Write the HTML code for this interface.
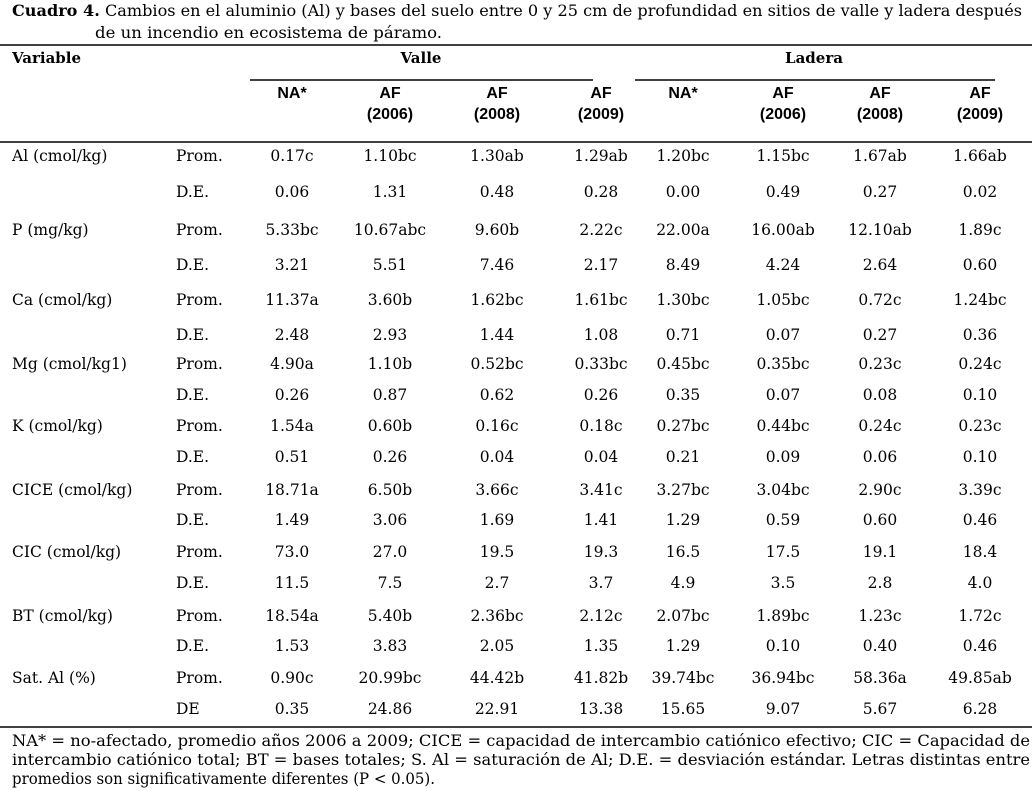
<!DOCTYPE html>
<html><head><meta charset="utf-8">
<style>
html,body{margin:0;padding:0;background:#fff;}
svg{display:block;}
.s{font-family:"DejaVu Serif","Liberation Serif",serif;font-size:15.5px;fill:#000;}
.h{font-family:"Liberation Sans",Arial,sans-serif;font-weight:bold;font-size:16px;fill:#000;}
.hs{font-family:"DejaVu Serif","Liberation Serif",serif;font-weight:bold;font-size:15px;fill:#000;}
</style></head>
<body>
<svg id="t" width="1032" height="791" viewBox="0 0 1032 791">
<text class="s" x="12" y="16" textLength="1010" lengthAdjust="spacingAndGlyphs"><tspan font-weight="bold">Cuadro 4.</tspan> Cambios en el aluminio (Al) y bases del suelo entre 0 y 25 cm de profundidad en sitios de valle y ladera después</text>
<text class="s" x="95" y="38" textLength="347" lengthAdjust="spacingAndGlyphs">de un incendio en ecosistema de páramo.</text>
<line x1="0" y1="45" x2="1032" y2="45" stroke="#000" stroke-width="1.5"/>
<text class="hs" x="12" y="63">Variable</text>
<text class="hs" x="421" y="63" text-anchor="middle">Valle</text>
<text class="hs" x="814" y="63" text-anchor="middle">Ladera</text>
<line x1="250" y1="80" x2="593" y2="80" stroke="#000" stroke-width="1.5"/>
<line x1="635" y1="80" x2="995" y2="80" stroke="#000" stroke-width="1.5"/>
<line x1="0" y1="142" x2="1032" y2="142" stroke="#000" stroke-width="1.5"/>
<line x1="0" y1="727" x2="1032" y2="727" stroke="#000" stroke-width="1.5"/>
<text class="s" x="12" y="746" textLength="1018" lengthAdjust="spacingAndGlyphs">NA* = no-afectado, promedio años 2006 a 2009; CICE = capacidad de intercambio catiónico efectivo; CIC = Capacidad de</text>
<text class="s" x="12" y="765" textLength="1018" lengthAdjust="spacingAndGlyphs">intercambio catiónico total; BT = bases totales; S. Al = saturación de Al; D.E. = desviación estándar. Letras distintas entre</text>
<text class="s" x="12" y="784" textLength="423" lengthAdjust="spacingAndGlyphs">promedios son significativamente diferentes (P &lt; 0.05).</text>
</svg>
<script>
const colTitles=["NA*","AF","AF","AF","NA*","AF","AF","AF"];
const colYears=["","(2006)","(2008)","(2009)","","(2006)","(2008)","(2009)"];
const variables=["Al (cmol/kg)","P (mg/kg)","Ca (cmol/kg)","Mg (cmol/kg1)","K (cmol/kg)","CICE (cmol/kg)","CIC (cmol/kg)","BT (cmol/kg)","Sat. Al (%)"];
const promValues=[
["0.17c","1.10bc","1.30ab","1.29ab","1.20bc","1.15bc","1.67ab","1.66ab"],
["5.33bc","10.67abc","9.60b","2.22c","22.00a","16.00ab","12.10ab","1.89c"],
["11.37a","3.60b","1.62bc","1.61bc","1.30bc","1.05bc","0.72c","1.24bc"],
["4.90a","1.10b","0.52bc","0.33bc","0.45bc","0.35bc","0.23c","0.24c"],
["1.54a","0.60b","0.16c","0.18c","0.27bc","0.44bc","0.24c","0.23c"],
["18.71a","6.50b","3.66c","3.41c","3.27bc","3.04bc","2.90c","3.39c"],
["73.0","27.0","19.5","19.3","16.5","17.5","19.1","18.4"],
["18.54a","5.40b","2.36bc","2.12c","2.07bc","1.89bc","1.23c","1.72c"],
["0.90c","20.99bc","44.42b","41.82b","39.74bc","36.94bc","58.36a","49.85ab"]];
const deValues=[
["0.06","1.31","0.48","0.28","0.00","0.49","0.27","0.02"],
["3.21","5.51","7.46","2.17","8.49","4.24","2.64","0.60"],
["2.48","2.93","1.44","1.08","0.71","0.07","0.27","0.36"],
["0.26","0.87","0.62","0.26","0.35","0.07","0.08","0.10"],
["0.51","0.26","0.04","0.04","0.21","0.09","0.06","0.10"],
["1.49","3.06","1.69","1.41","1.29","0.59","0.60","0.46"],
["11.5","7.5","2.7","3.7","4.9","3.5","2.8","4.0"],
["1.53","3.83","2.05","1.35","1.29","0.10","0.40","0.46"],
["0.35","24.86","22.91","13.38","15.65","9.07","5.67","6.28"]];
const deLabels=["D.E.","D.E.","D.E.","D.E.","D.E.","D.E.","D.E.","D.E.","DE"];

const svg=document.getElementById('t');
const NS="http://www.w3.org/2000/svg";
const colX=[292,390,497,601,683,783,880,980];
const promY=[161,235,305,369,431,495,557,621,683];
const deY=[197,270,340,400,462,525,588,651,714];
function txt(cls,x,y,s,anchor){const e=document.createElementNS(NS,'text');e.setAttribute('class',cls);e.setAttribute('x',x);e.setAttribute('y',y);if(anchor)e.setAttribute('text-anchor',anchor);e.textContent=s;svg.appendChild(e);return e;}
colTitles.forEach((c,i)=>{
  const e=txt('h',colX[i],98,c,'middle');
  
  
  if(colYears[i]){const y=txt('h',colX[i],119,colYears[i],'middle');
  
  }
});
variables.forEach((v,r)=>{
  const a=txt('s',12,promY[r],v);
  
  
  const p=txt('s',176,promY[r],'Prom.');
  
  
  const d=txt('s',176,deY[r],deLabels[r]);
  
  
  promValues[r].forEach((val,c)=>{
    const e=txt('s',colX[c],promY[r],val,'middle');
    
    
  });
  deValues[r].forEach((val,c)=>{
    const e=txt('s',colX[c],deY[r],val,'middle');
    
    
  });
});
</script>
</body></html>
